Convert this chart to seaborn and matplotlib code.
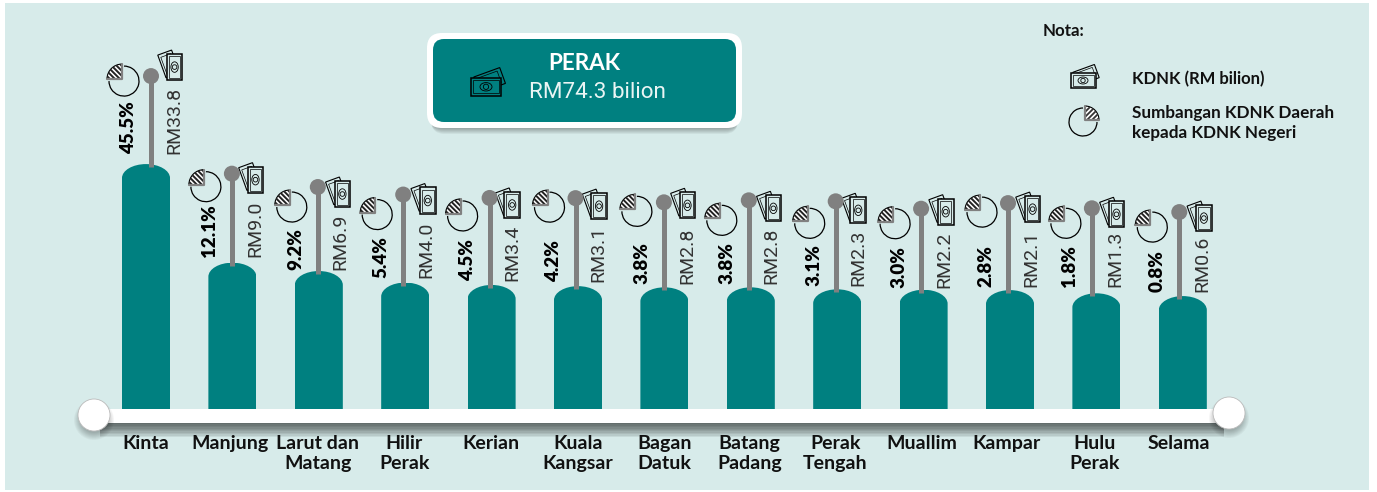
# Sumbangan KDNK daerah, Perak
import matplotlib
matplotlib.use('Agg')
import matplotlib.pyplot as plt
import seaborn as sns
import pandas as pd
from matplotlib.patches import Rectangle, Circle, Ellipse, Wedge, FancyBboxPatch, PathPatch
from matplotlib.path import Path
from matplotlib.transforms import Affine2D

# Data
daerah = ['Kinta', 'Manjung', 'Larut dan\nMatang', 'Hilir\nPerak', 'Kerian', 'Kuala\nKangsar',
          'Bagan\nDatuk', 'Batang\nPadang', 'Perak\nTengah', 'Muallim', 'Kampar', 'Hulu\nPerak', 'Selama']
kdnk = [33.8, 9.0, 6.9, 4.0, 3.4, 3.1, 2.8, 2.8, 2.3, 2.2, 2.1, 1.3, 0.6]
sumbangan = [45.5, 12.1, 9.2, 5.4, 4.5, 4.2, 3.8, 3.8, 3.1, 3.0, 2.8, 1.8, 0.8]
negeri = 'PERAK'
jumlah_kdnk = 74.3

# Warna dan susun atur
TEAL = '#008080'
LATAR = '#D7EBEA'
KELABU = '#808080'
FONT = 'Lato'
FONT_NIPIS = 'Roboto'
W, H = 1377, 492
PX_X = 86.4      # piksel antara bar
PX_Y = 3.976     # piksel bagi RM1 bilion
X0, Y0 = 146, 409
ASAS = 27.8      # paksi bar bermula di bawah sifar

# Pelarasan kecil tiap daerah (piksel)
tangkai_px = [88, 89, 84, 88, 87, 88, 85, 87, 88, 81, 87, 85, 84]
tangkai_dx = [5, -0.5, -1, -2, -2, -2.5, -0.5, -2, -1.5, -2.5, -2, -4.5, -3.5]
pai_dx = [-27, -26, -26, -26, -27, -26, -27, -27, -26, -26, -26, -26, -27]
pai_dy = [5, 13, 20, 20, 18, 9, 9, 20, 22, 15, 9, 15, 15]
wang_dx = [22, 22, 23, 23, 21, 22, 22, 23, 21, 23, 23, 23, 23]
wang_dy = [-9, 6, 7, 6, 7, 8, 3, 8, 9, 3, 6, 6, 6]
teks_gap = [10, 6, 1, 5, 4, 4, 3, 3, 3, 2, 3, 6, 4]
label_dx = [0, -2, -1, -1, -1, 0, 0, -1, -2, -2, -3, -2, -4]

sns.set_theme(style='white')
plt.rcParams['font.family'] = [FONT, 'DejaVu Sans']

fig = plt.figure(figsize=(W / 100, H / 100), dpi=100, facecolor='white')
ax = fig.add_axes([0, 0, 1, 1])
ax.add_patch(Rectangle((5 / W, 1 - 490 / H), 1364 / W, 487 / H, transform=fig.transFigure,
                       fc=LATAR, ec='none', zorder=0))

df = pd.DataFrame({'daerah': daerah, 'kdnk': kdnk})
df['tinggi'] = df['kdnk'] + ASAS
sns.barplot(data=df, x='daerah', y='tinggi', color=TEAL, saturation=1, width=0.556, ax=ax, zorder=2, linewidth=0)
ax.set_xlim(-X0 / PX_X, (W - X0) / PX_X)
ax.set_ylim((Y0 - H) / PX_Y, Y0 / PX_Y)
ax.axis('off')

# Puncak bar melengkung
kubah = 14 / PX_Y
for bar in ax.patches:
    if bar.get_zorder() != 2:
        continue
    x, w, t = bar.get_x(), bar.get_width(), bar.get_height()
    verts = [(x, 0), (x, t - kubah), (x, t - kubah * 0.45), (x + w * 0.225, t), (x + w / 2, t),
             (x + w * 0.775, t), (x + w, t - kubah * 0.45), (x + w, t - kubah), (x + w, 0), (x, 0)]
    codes = [Path.MOVETO, Path.LINETO, Path.CURVE4, Path.CURVE4, Path.CURVE4,
             Path.CURVE4, Path.CURVE4, Path.CURVE4, Path.LINETO, Path.CLOSEPOLY]
    bar.set_clip_path(Path(verts, codes), ax.transData)

# Lapisan atas dalam koordinat piksel
ov = fig.add_axes([0, 0, 1, 1], zorder=3)
ov.set_xlim(0, W)
ov.set_ylim(H, 0)
ov.axis('off')
ov.patch.set_alpha(0)


def ke_piksel(x, y):
    dx, dy = ax.transData.transform((x, y))
    return dx, H - dy


def ikon_wang(cx, cy, skala=1.0, sudut=0, isi=LATAR, z=2):
    asas = Affine2D().scale(skala).rotate_deg(sudut).translate(cx, cy) + ov.transData
    belakang = Affine2D().rotate_deg(-20).translate(3, -4) + asas
    ov.add_patch(Rectangle((-11.5, -7), 23, 14, fc=isi, ec='black', lw=0.8, transform=belakang, zorder=z))
    ov.add_patch(Rectangle((-8.5, -5), 17, 10, fc='none', ec='black', lw=0.5, transform=belakang, zorder=z))
    ov.add_patch(Rectangle((-12.5, -6), 25, 15, fc=isi, ec='black', lw=1.1, transform=asas, zorder=z))
    ov.add_patch(Rectangle((-10.5, -4), 21, 11, fc='none', ec='black', lw=0.5, transform=asas, zorder=z))
    ov.add_patch(Ellipse((0, 1.5), 10, 7, fc='none', ec='black', lw=0.6, transform=asas, zorder=z))
    ov.add_patch(Circle((0, 1.5), 2.2, fc='none', ec='black', lw=0.6, transform=asas, zorder=z))


def ikon_pai(cx, cy, r=15, kanan=False):
    t1, t2 = (270, 360) if kanan else (180, 270)
    sisa = Path.arc(0, 270) if kanan else Path.arc(270, 540)
    ov.add_patch(PathPatch(sisa, fc='none', ec='black', lw=0.9,
                           transform=Affine2D().scale(r).translate(cx, cy) + ov.transData))
    arah = 1 if kanan else -1
    px, py = cx + arah * 2, cy - 2
    potong = Wedge((px, py), r, t1, t2, fc='white', ec='none', lw=0)
    ov.add_patch(potong)
    for k in range(-6, 7):
        # jalur serong dalam potongan pai
        x0 = px - r + k * 5
        if kanan:
            garis, = ov.plot([x0 + r, x0 + 3 * r], [cy, cy - 2 * r], color='#333333', lw=1.3)
        else:
            garis, = ov.plot([x0 - r, x0 + r], [cy - 2 * r, cy], color='#222222', lw=1.4)
        garis.set_clip_path(potong)
    ov.add_patch(PathPatch(Path.arc(t1, t2), fc='none', ec='black', lw=0.8,
                           transform=Affine2D().scale(r).translate(px, py) + ov.transData))
    ov.plot([px + arah * r, px, px], [py, py, py - r], color=KELABU, lw=1.6)


for i, (val, pct) in enumerate(zip(kdnk, sumbangan)):
    bx, atas = ke_piksel(i, val + ASAS)
    sx = bx + tangkai_dx[i]
    dy = atas - tangkai_px[i]
    ov.plot([sx, sx], [atas + 3, dy], color=KELABU, lw=3.6, solid_capstyle='butt', zorder=2)
    ov.add_patch(Circle((sx, dy), 8, fc=KELABU, ec='none', zorder=3))
    ikon_pai(sx + pai_dx[i], dy + pai_dy[i])
    ikon_wang(sx + wang_dx[i], dy + wang_dy[i], skala=1.05, sudut=-90)
    ov.text(sx - 22, atas - teks_gap[i], f'{pct:.1f}%', rotation=90, ha='center', va='bottom',
            fontsize=13.5, fontweight='heavy', color='black')
    ov.text(sx + 23, atas - teks_gap[i], f'RM{val:.1f}', rotation=90, ha='center', va='bottom',
            fontsize=14, fontweight='normal', color='#333333', family=[FONT_NIPIS, 'DejaVu Sans'])
    ov.text(bx + label_dx[i], 435, daerah[i], ha='center', va='top', fontsize=14,
            fontweight='bold', color='#111111', linespacing=1.2)

# Garis asas dengan bayang
for k in range(10):
    ov.add_patch(Rectangle((100, 423), 1124, 14 - k * 1.4, fc='black', alpha=0.07, ec='none', zorder=1))
ov.add_patch(Rectangle((94, 409), 1135, 14, fc='white', ec='none', zorder=4))
for cx, cy in [(94, 415), (1229, 413)]:
    for k in range(8):
        ov.add_patch(Circle((cx, cy + 5), 20 - k, fc='black', alpha=0.035, ec='none', zorder=4))
    ov.add_patch(Circle((cx, cy), 16, fc='white', ec='#BBBBBB', lw=0.6, zorder=5))

# Kotak negeri
for k in range(7):
    ov.add_patch(FancyBboxPatch((431 - k * 0.3, 38), 307 + k * 0.6, 96 - k, boxstyle='round,pad=0,rounding_size=14',
                                fc='black', alpha=0.05, ec='none', zorder=1))
ov.add_patch(FancyBboxPatch((427, 33), 315, 95, boxstyle='round,pad=0,rounding_size=15',
                            fc='white', ec='none', zorder=2))
ov.add_patch(FancyBboxPatch((433, 39), 303, 83, boxstyle='round,pad=0,rounding_size=11',
                            fc=TEAL, ec='none', zorder=3))
ov.text(584, 63, negeri, ha='center', va='center', fontsize=16.2, fontweight='bold', color='white', zorder=4)
ov.text(597, 92, f'RM{jumlah_kdnk} bilion', ha='center', va='center', fontsize=16.2, fontweight='normal',
        color='#EAF5F4', zorder=4, family=[FONT_NIPIS, 'DejaVu Sans'])
ikon_wang(486, 85, skala=1.2, isi=TEAL, z=4)

# Nota
ov.text(1043, 31, 'Nota:', ha='left', va='center', fontsize=12.2, fontweight='bold', color='#111111')
ikon_wang(1083, 79, skala=1.0)
ikon_pai(1083, 122, r=14, kanan=True)
ov.text(1132, 79, 'KDNK (RM bilion)', ha='left', va='center', fontsize=12, fontweight='bold', color='#111111')
ov.text(1132, 113, 'Sumbangan KDNK Daerah', ha='left', va='center', fontsize=12.3, fontweight='bold', color='#111111')
ov.text(1132, 133, 'kepada KDNK Negeri', ha='left', va='center', fontsize=12.3, fontweight='bold', color='#111111')

fig.savefig('out.png', dpi=100, facecolor='white')
